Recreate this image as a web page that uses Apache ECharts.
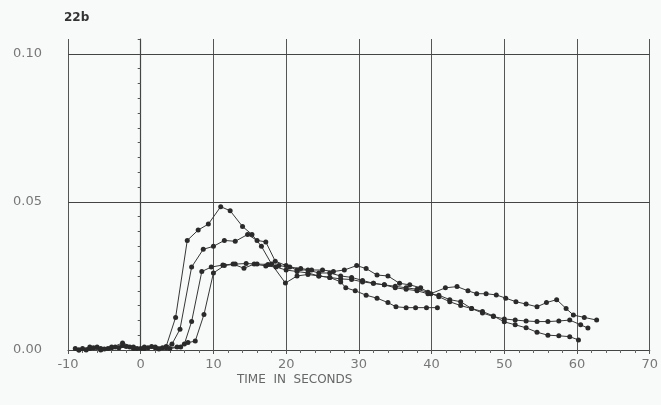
<!DOCTYPE html>
<html>
<head>
<meta charset="utf-8">
<script src="https://cdn.jsdelivr.net/npm/echarts@6/dist/echarts.min.js"></script>
<style>
  html, body { margin: 0; padding: 0; background: #f8faf9; }
  #chart { width: 661px; height: 405px; }
</style>
</head>
<body>
<div id="chart"></div>
<script>
// time (s) and value pairs for each trace
var timeA = [-8.5, -7, -5.5, -4, -2.5, -1, 0.5, 2, 3.5, 4.8, 6.4, 7.9, 9.3, 11, 12.3, 14, 15.3, 16.6, 18, 19.9, 21.5, 23, 24.5, 26, 27.5, 29, 30.5, 32, 33.5, 35, 36.5, 38, 39.5, 41, 42.5, 44, 45.5, 47, 48.5, 50, 51.5, 53, 54.5, 56, 57.5, 59, 60.2];
var valA = [0, 0.0005, 0, 0.001, 0.0015, 0.0005, 0.001, 0.0008, 0.0012, 0.011, 0.037, 0.0405, 0.0425, 0.0484, 0.047, 0.0417, 0.039, 0.035, 0.029, 0.0226, 0.025, 0.0255, 0.025, 0.0245, 0.024, 0.0238, 0.023, 0.0225, 0.022, 0.021, 0.0205, 0.02, 0.019, 0.0185, 0.017, 0.0163, 0.014, 0.013, 0.0115, 0.0095, 0.0085, 0.0075, 0.006, 0.005, 0.0048, 0.0045, 0.0034];

var timeB = [-9, -7.5, -6, -4.5, -3, -1.5, 0, 1.5, 3, 4.3, 5.4, 7, 8.6, 10, 11.5, 13, 14.7, 16, 17.2, 18.5, 20, 21.5, 23, 24.5, 26, 27.5, 29, 30.5, 32, 33.5, 35, 36.5, 38, 39.5, 41, 42.5, 44, 45.5, 47, 48.5, 50, 51.5, 53, 54.5, 56, 57.5, 59, 60.5, 61.5];
var valB = [0.0005, 0, 0.001, 0.0005, 0.0008, 0.001, 0.0005, 0.0012, 0.0008, 0.002, 0.007, 0.028, 0.034, 0.035, 0.037, 0.0367, 0.039, 0.037, 0.0365, 0.03, 0.0285, 0.027, 0.027, 0.026, 0.026, 0.025, 0.0245, 0.0235, 0.0225, 0.022, 0.0215, 0.021, 0.0205, 0.0195, 0.018, 0.0163, 0.015, 0.014, 0.0125, 0.0113, 0.0105, 0.0101, 0.0098, 0.0096, 0.0096, 0.0098, 0.0101, 0.0085, 0.0074];

var timeC = [-8.5, -7, -5.5, -4, -2.5, -1, 0.5, 2, 3.5, 5, 6, 7, 8.4, 9.7, 11.3, 12.7, 14.2, 15.6, 17.2, 18.6, 20, 21.5, 23, 24.5, 26, 27.5, 28.2, 29.5, 31, 32.5, 34, 35.1, 36.5, 37.8, 39.3, 40.8];
var valC = [0, 0.001, 0.0005, 0.0008, 0.0024, 0.001, 0.0005, 0.001, 0.0008, 0.001, 0.002, 0.0096, 0.0265, 0.028, 0.0287, 0.029, 0.0276, 0.029, 0.0284, 0.028, 0.027, 0.0265, 0.026, 0.025, 0.0245, 0.023, 0.021, 0.02, 0.0185, 0.0175, 0.016, 0.0146, 0.0143, 0.0143, 0.0143, 0.0143];

var timeD = [-8, -6.5, -5, -3.5, -2, -0.5, 1, 2.5, 4, 5.5, 6.5, 7.5, 8.7, 10, 11.5, 13, 14.5, 16, 17.5, 19, 20.5, 22, 23.5, 25, 26.5, 28, 29.7, 31, 32.5, 34, 35.6, 37, 38.5, 39.9, 41.9, 43.5, 45, 46.2, 47.5, 48.9, 50.2, 51.6, 53, 54.5, 55.8, 57.2, 58.5, 59.5, 61, 62.7];
var valD = [0.0005, 0.0008, 0.0003, 0.001, 0.0012, 0.0005, 0.0008, 0.0003, 0.0005, 0.001, 0.0025, 0.003, 0.012, 0.026, 0.0285, 0.029, 0.0292, 0.029, 0.0289, 0.0285, 0.028, 0.0275, 0.027, 0.027, 0.0265, 0.027, 0.0285, 0.0275, 0.0253, 0.025, 0.0225, 0.022, 0.021, 0.019, 0.021, 0.0214, 0.02, 0.019, 0.019, 0.0186, 0.0175, 0.0163, 0.0155, 0.0146, 0.016, 0.017, 0.014, 0.0118, 0.011, 0.0101];

var refLines = [0.05, 0.10];

function pairUp(t, v) {
    var out = [];
    for (var i = 0; i < t.length; i++) {
        out.push([t[i], v[i]]);
    }
    return out;
}

function makeSeries(t, v, withRefs) {
    var s = {
        type: 'line',
        data: pairUp(t, v),
        symbol: 'circle',
        symbolSize: 5,
        showSymbol: true,
        itemStyle: { color: '#2a2a2a' },
        lineStyle: { color: '#363636', width: 1 },
        z: 5
    };
    if (withRefs) {
        s.markLine = {
            silent: true,
            symbol: 'none',
            label: { show: false },
            lineStyle: { color: '#444', width: 1.2, type: 'solid' },
            data: refLines.map(function(y) { return { yAxis: y }; })
        };
    }
    return s;
}

var chart = echarts.init(document.getElementById('chart'));
var option = {
    backgroundColor: '#f8faf9',
    animation: false,
    grid: { left: 68, right: 0, top: 39, bottom: 55 },
    xAxis: {
        type: 'value',
        min: -10,
        max: 70,
        interval: 10,
        axisLine: { show: true, onZero: false, lineStyle: { color: '#444', width: 1.2 } },
        axisTick: { show: true, length: 4, lineStyle: { color: '#555' } },
        minorTick: { show: true, splitNumber: 5, length: 3, lineStyle: { color: '#666' } },
        splitLine: { show: true, lineStyle: { color: '#555', width: 1 } },
        axisLabel: {
            color: '#777',
            fontSize: 13,
            fontFamily: 'DejaVu Sans',
            margin: 8
        }
    },
    yAxis: {
        type: 'value',
        min: 0,
        max: 0.105,
        interval: 0.005,
        axisLine: { show: true, lineStyle: { color: '#444', width: 1.2 } },
        axisTick: { show: true, length: 3, lineStyle: { color: '#555' } },
        splitLine: { show: false },
        axisLabel: {
            color: '#777',
            fontSize: 13,
            fontFamily: 'DejaVu Sans',
            margin: 26,
            formatter: function(v) {
                var k = Math.round(v / 0.005);
                return k % 10 === 0 ? (k * 0.005).toFixed(2) : '';
            }
        }
    },
    graphic: [
        {
            type: 'text', left: 64, top: 12,
            style: { text: '22b', fill: '#333', font: 'bold 12px "DejaVu Sans"' }
        },
        {
            type: 'text', left: 237, top: 374,
            style: { text: 'TIME  IN  SECONDS', fill: '#666', font: '12px "DejaVu Sans"' }
        }
    ],
    series: [
        makeSeries(timeA, valA, true),
        makeSeries(timeB, valB, false),
        makeSeries(timeC, valC, false),
        makeSeries(timeD, valD, false)
    ]
};
chart.setOption(option);
</script>
</body>
</html>
